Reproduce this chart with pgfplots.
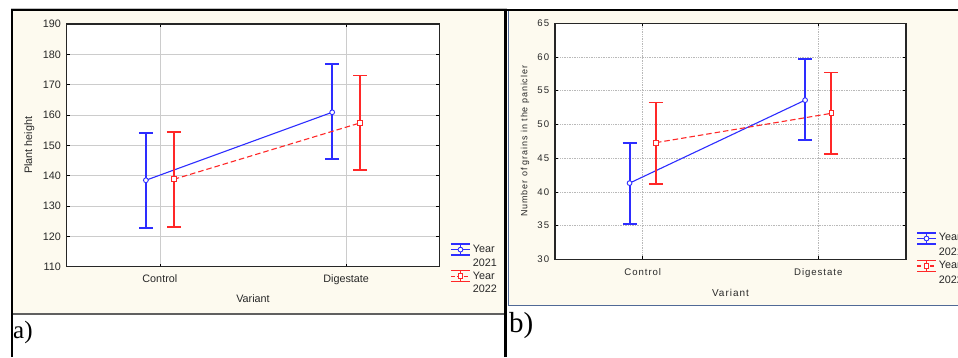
\documentclass[border=0pt]{standalone}
\usepackage{fontspec}
\setmainfont{Liberation Sans}
\newfontfamily\serifa{Liberation Serif}
\newfontfamily\spaced[LetterSpace=10]{Liberation Sans}
\usepackage{pgfplots}
\usepackage{pgfplotstable}
\pgfplotsset{compat=1.18}
\definecolor{cream}{RGB}{253,250,239}
\definecolor{myblue}{RGB}{45,45,255}
\definecolor{myred}{RGB}{255,40,40}
\definecolor{txt}{RGB}{40,40,40}
\definecolor{panelline}{RGB}{80,105,150}

\pgfplotstableread{
x y ep em
-0.075 138.5 15.5 15.75
0.925 160.9 15.8 15.4
}\aBlue
\pgfplotstableread{
x y ep em
0.075 138.8 15.6 15.7
1.075 157.4 15.6 15.65
}\aRed
\pgfplotstableread{
x y ep em
-0.075 41.3 6.0 6.06
0.925 53.6 6.1 5.95
}\bBlue
\pgfplotstableread{
x y ep em
0.075 47.3 5.94 6.1
1.075 51.65 6.05 6.05
}\bRed

\pgfplotsset{
  statstyle/.style={
    scale only axis,
    anchor=south west,
    xmin=-0.5, xmax=1.5,
    xtick={0,1}, xticklabels={Control,Digestate},
    tick align=inside, xtick pos=both, ytick pos=both,
    major tick length=3pt,
    tick style={black, line width=0.6pt},
    axis line style={black!85, line width=1.1pt},
    axis background/.style={fill=white},
    /pgf/number format/assume math mode=true,
    yticklabel style={anchor=east, inner sep=0pt, xshift=-5.7pt, text=txt},
    xticklabel style={anchor=north, inner sep=0pt, text=txt},
    error bars/y dir=both,
    error bars/y explicit,
    legend cell align=left,
    legend style={draw=none, fill=none, inner sep=0pt, row sep=0pt,
      cells={align=left, inner sep=0pt}, text=txt},
  },
  bluePlot/.style={color=myblue, draw=myblue, line width=1.1pt, mark=*, mark size=2.4pt,
    mark options={fill=white, draw=myblue, solid, line width=0.9pt},
    error bars/error bar style={color=myblue, draw=myblue, solid, line width=1.9pt},
    error bars/error mark options={rotate=90, color=myblue, draw=myblue, solid, mark size=7pt, line width=1.8pt},
    forget plot},
  redPlot/.style={color=myred, draw=myred, line width=1.1pt, dash pattern=on 5.5pt off 3pt, mark=square*, mark size=2.4pt,
    mark options={fill=white, draw=myred, solid, line width=0.9pt},
    error bars/error bar style={color=myred, draw=myred, solid, line width=1.9pt},
    error bars/error mark options={rotate=90, color=myred, draw=myred, solid, mark size=7pt, line width=1.8pt},
    forget plot},
  legBlue/.style={legend image code/.code={
    \begin{scope}[yshift=6.8pt]
    \draw[myblue, line width=1.6pt] (0pt,5.5pt) -- (19pt,5.5pt) (0pt,-5.5pt) -- (19pt,-5.5pt) (9.5pt,-5.5pt) -- (9.5pt,5.5pt);
    \draw[myblue, line width=1.1pt] (0pt,0pt) -- (19pt,0pt);
    \draw[myblue, line width=0.9pt, mark=*, mark size=2.4pt, mark options={fill=white}] plot coordinates {(9.5pt,0pt)};
    \end{scope}
  }},
  legRed/.style={legend image code/.code={
    \begin{scope}[yshift=6.8pt]
    \draw[myred, line width=1.6pt] (0pt,5.5pt) -- (19pt,5.5pt) (0pt,-5.5pt) -- (19pt,-5.5pt) (9.5pt,-5.5pt) -- (9.5pt,5.5pt);
    \draw[myred, line width=1.1pt, dash pattern=on 4pt off 2.5pt] (0pt,0pt) -- (19pt,0pt);
    \draw[myred, line width=0.9pt, mark=square*, mark size=2.4pt, mark options={fill=white}] plot coordinates {(9.5pt,0pt)};
    \end{scope}
  }},
}

\begin{document}
\begin{tikzpicture}[x=1pt,y=1pt]
\useasboundingbox (0,0) rectangle (958,357);
\clip (0,0) rectangle (958,357);
% panel backgrounds and frames
\fill[cream] (13,43.7) rectangle (504.3,346);
\draw[gray!75!black, line width=1.7pt] (13,42.8) -- (504.3,42.8);
\fill[cream] (508.5,52) rectangle (958,346);
\draw[panelline, line width=1.1pt] (508.2,346) -- (508.2,51.5) -- (958,51.5);
\draw[gray!50, line width=0.8pt] (11,349) -- (506.5,349);
\draw[black, line width=1.8pt] (10.8,346.8) -- (958,346.8);
\draw[black, line width=2.3pt] (12.2,0) -- (12.2,347.7);
\draw[black, line width=2.3pt] (505.5,0) -- (505.5,347.7);
\node[anchor=base west, inner sep=0pt] at (13,18.5) {\serifa\fontsize{25}{25}\selectfont a)};
\node[anchor=base west, inner sep=0pt] at (509,24.7) {\serifa\fontsize{29}{29}\selectfont b)};

% ---------- panel a ----------
\begin{axis}[statstyle,
  at={(66.7pt,90.3pt)}, width=372.6pt, height=242.7pt,
  ymin=110, ymax=190, ytick={110,120,...,190},
  grid=major, grid style={gray!40, line width=0.6pt},
  tick label style={font=\fontsize{10.8}{13}\selectfont},
  xticklabel style={yshift=-7.4pt},
  xlabel={Variant}, ylabel={Plant height},
  every axis x label/.style={at={(axis description cs:0.5,0)}, anchor=center, yshift=-32.3pt, font=\fontsize{10.8}{13}\selectfont, text=txt},
  every axis y label/.style={at={(axis description cs:-0.1004,0.5)}, rotate=90, anchor=center, font=\fontsize{10.8}{13}\selectfont, text=txt},
  legend style={at={(1.0287,0.098)}, anchor=north west, font=\fontsize{10.8}{13.65}\selectfont},
]
\addplot[bluePlot] table[x=x, y=y, y error plus=ep, y error minus=em] {\aBlue};
\addplot[redPlot] table[x=x, y=y, y error plus=ep, y error minus=em] {\aRed};
\addlegendimage{legBlue}
\addlegendentry{Year\\2021}
\addlegendimage{legRed}
\addlegendentry{Year\\2022}
\end{axis}

% ---------- panel b ----------
\begin{axis}[statstyle,
  at={(555pt,97.7pt)}, width=351pt, height=236pt,
  ymin=30, ymax=65, ytick={30,35,...,65},
  grid=major, grid style={gray!55, line width=0.7pt, densely dotted},
  tick label style={font=\spaced\fontsize{9.6}{12}\selectfont},
  xticklabel style={yshift=-8.8pt},
  xlabel={Variant}, ylabel={Number of grains in the panicler},
  every axis x label/.style={at={(axis description cs:0.5,0)}, anchor=center, yshift=-33.4pt, font=\spaced\fontsize{10}{12}\selectfont, text=txt},
  every axis y label/.style={at={(axis description cs:-0.0855,0.5)}, rotate=90, anchor=center, font=\spaced\fontsize{9}{11}\selectfont, text=txt},
  legend style={at={(1.0285,0.1185)}, anchor=north west, font=\fontsize{10.8}{14.6}\selectfont},
]
\addplot[bluePlot] table[x=x, y=y, y error plus=ep, y error minus=em] {\bBlue};
\addplot[redPlot] table[x=x, y=y, y error plus=ep, y error minus=em] {\bRed};
\addlegendimage{legBlue}
\addlegendentry{Year\\2021}
\addlegendimage{legRed}
\addlegendentry{Year\\2022}
\end{axis}
\end{tikzpicture}
\end{document}
